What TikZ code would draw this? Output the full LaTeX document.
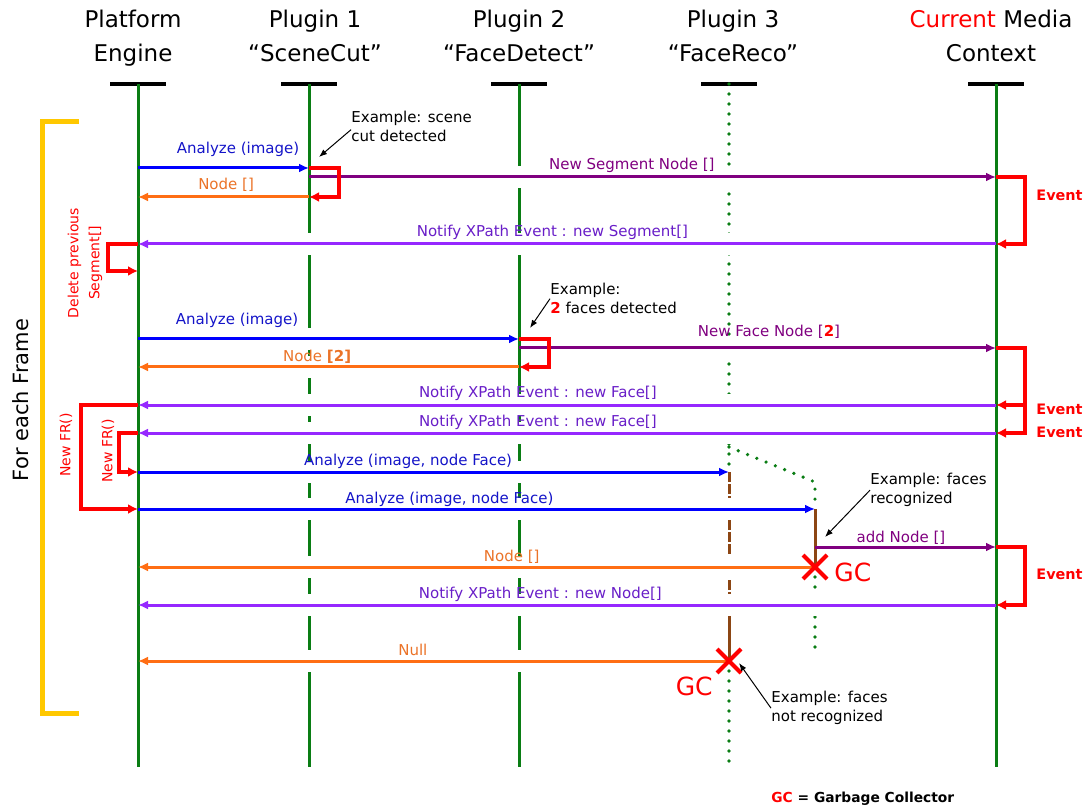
\documentclass[tikz,border=0pt]{standalone}
\usepackage{fontspec}
\setsansfont{DejaVu Sans}
\usetikzlibrary{arrows.meta, shapes.misc, positioning}

\definecolor{lifegreen}{RGB}{10,125,20}
\definecolor{callblue}{RGB}{0,0,255}
\definecolor{calltext}{RGB}{20,20,200}
\definecolor{retorange}{RGB}{255,110,20}
\definecolor{rettext}{RGB}{235,115,40}
\definecolor{putpurple}{RGB}{128,0,128}
\definecolor{notviolet}{RGB}{150,40,255}
\definecolor{nottext}{RGB}{105,30,200}
\definecolor{actbrown}{RGB}{140,70,20}
\definecolor{loopyellow}{RGB}{255,200,0}

\begin{document}
\begin{tikzpicture}[x=0.5pt, y=-0.5pt, font=\sffamily,
    head/.style={align=center, anchor=north, inner sep=0pt, font=\sffamily\fontsize{11.5}{17}\selectfont},
    bar/.style={line width=2pt},
    life/.style={draw=lifegreen, line width=1.5pt},
    dots/.style={draw=lifegreen, line width=1.8pt, line cap=round, dash pattern=on 0pt off 5pt},
    act/.style={draw=actbrown, line width=1.5pt},
    halo/.style={draw=white, line width=11pt, shorten <=3pt, shorten >=3pt},
    msg/.style={line width=1.5pt, -{Latex[length=5pt,width=4.5pt]}},
    ana/.style={msg, draw=callblue},
    ret/.style={msg, draw=retorange},
    put/.style={msg, draw=putpurple},
    ntf/.style={msg, draw=notviolet},
    evt/.style={draw=red, line width=1.8pt, -{Latex[length=5pt,width=5pt]}},
    lbl/.style={anchor=base, inner sep=0pt, yshift=3.5pt, font=\sffamily\fontsize{7.5}{9}\selectfont},
    side/.style={red, rotate=90, align=center, inner sep=0pt, font=\sffamily\fontsize{7}{10.5}\selectfont},
    note/.style={align=left, anchor=north west, inner sep=0pt, font=\sffamily\fontsize{7.5}{9.5}\selectfont},
    ptr/.style={line width=0.5pt, -{Latex[length=4pt,width=3pt]}},
    gc/.style={draw=red, cross out, line width=2pt, minimum size=10pt, inner sep=0pt},
    big/.style={red, inner sep=0pt, font=\sffamily\fontsize{12.5}{15}\selectfont},
    evtlbl/.style={red, anchor=west, inner sep=0pt, font=\sffamily\bfseries\fontsize{7.2}{9}\selectfont}]

    \useasboundingbox (0,0) rectangle (1086,807);

    % 1. Loop bracket
    \draw[loopyellow, line width=2.5pt] (79,122) -| (42,713) -- (79,713);
    \node[rotate=90, font=\sffamily\fontsize{10.5}{12}\selectfont] (frame) at (21,400) {For each Frame};

    % 2. Participants
    \node[head] (hEng) at (133,10) {Platform\\Engine};
    \node[head] (hSc) at (315,10) {Plugin 1\\“SceneCut”};
    \node[head] (hFd) at (519,10) {Plugin 2\\“FaceDetect”};
    \node[head] (hFr) at (733,10) {Plugin 3\\“FaceReco”};
    \node[head] (hCtx) at (991,10) {{\color{red}Current} Media\\Context};

    \coordinate (eng) at (138,84);
    \coordinate (sc) at (309,84);
    \coordinate (fd) at (519,84);
    \coordinate (fr) at (729,84);
    \coordinate (ctx) at (996,84);
    \coordinate (split) at (729,447);
    \coordinate (fr2) at (815,482);
    \coordinate (bot) at (0,767);
    \coordinate (frEnd) at (0,648);

    % message rows
    \coordinate (cut) at (0,168);
    \coordinate (seg) at (0,177);
    \coordinate (nodeA) at (0,197);
    \coordinate (notA) at (0,244);
    \coordinate (del) at (0,271);
    \coordinate (anaB) at (0,339);
    \coordinate (face) at (0,348);
    \coordinate (nodeB) at (0,367);
    \coordinate (notB) at (0,405);
    \coordinate (notC) at (0,433);
    \coordinate (anaC) at (0,472);
    \coordinate (anaD) at (0,509);
    \coordinate (add) at (0,547);
    \coordinate (nodeC) at (0,567);
    \coordinate (notD) at (0,605);
    \coordinate (null) at (0,661);

    \foreach \l in {eng, sc, fd, fr, ctx}
        \draw[bar] ([xshift=-14pt]\l) -- ([xshift=14pt]\l);

    % 3. Lifelines
    \draw[life] (eng) -- (eng|-bot);
    \draw[life] (sc) -- (sc|-bot);
    \draw[life] (fd) -- (fd|-bot);
    \draw[life] (ctx) -- (ctx|-bot);
    \draw[dots] (fr) -- (fr|-anaC);
    \draw[dots] (split) -- (fr2) -- (fr2|-anaD);
    \draw[act, dash pattern=on 5pt off 1pt] (fr|-anaC) -- (fr|-notD);
    \draw[act] (fr|-notD) -- (fr|-null);
    \draw[act] (fr2|-anaD) -- (fr2|-nodeC);
    \draw[dots] (fr2|-nodeC) -- (fr2|-frEnd);
    \draw[dots] (fr|-null) -- (fr|-bot);

    % gaps where the messages cross
    \foreach \a/\b/\r in {eng/sc/cut, sc/ctx/seg, sc/eng/nodeA, ctx/eng/notA,
        eng/fd/anaB, fd/ctx/face, fd/eng/nodeB, ctx/eng/notB, ctx/eng/notC,
        eng/fr/anaC, eng/fr2/anaD, fr2/ctx/add, fr2/eng/nodeC, ctx/eng/notD, fr/eng/null}
        \draw[halo] (\a|-\r) -- (\b|-\r);

    % 4. Messages
    \draw[ana] (eng|-cut) -- (sc|-cut) node[lbl, calltext, pos=.585, yshift=3.5pt] {Analyze (image)};
    \draw[put] (sc|-seg) -- (ctx|-seg) node[lbl, putpurple, pos=.47] {New Segment Node []};
    \draw[ret] (sc|-nodeA) -- (eng|-nodeA) node[lbl, rettext, pos=.485] {Node []};
    \draw[ntf] (ctx|-notA) -- (eng|-notA) node[lbl, nottext, pos=.517] {Notify XPath Event : new Segment[]};

    \draw[ana] (eng|-anaB) -- (fd|-anaB) node[lbl, calltext, pos=.26, yshift=3.5pt] {Analyze (image)};
    \draw[put] (fd|-face) -- (ctx|-face) node[lbl, putpurple, pos=.524, yshift=2pt] {New Face Node [{\color{red}\bfseries 2}]};
    \draw[ret] (fd|-nodeB) -- (eng|-nodeB) node[lbl, rettext, pos=.53, yshift=-1pt] {Node {\bfseries[2]}};
    \draw[ntf] (ctx|-notB) -- (eng|-notB) node[lbl, nottext, pos=.534] {Notify XPath Event : new Face[]};
    \draw[ntf] (ctx|-notC) -- (eng|-notC) node[lbl, nottext, pos=.534] {Notify XPath Event : new Face[]};

    \draw[ana] (eng|-anaC) -- (fr|-anaC) node[lbl, calltext, pos=.457] {Analyze (image, node Face)};
    \draw[ana] (eng|-anaD) -- (fr2|-anaD) node[lbl, calltext, pos=.46, yshift=-.5pt] {Analyze (image, node Face)};
    \draw[put] (fr2|-add) -- (ctx|-add) node[lbl, putpurple, pos=.475, yshift=-1pt] {add Node []};
    \draw[ret] (fr2|-nodeC) -- (eng|-nodeC) node[lbl, rettext, pos=.448, yshift=-.5pt] {Node []};
    \draw[ntf] (ctx|-notD) -- (eng|-notD) node[lbl, nottext, pos=.531] {Notify XPath Event : new Node[]};
    \draw[ret] (fr|-null) -- (eng|-null) node[lbl, rettext, pos=.535, yshift=-.5pt] {Null};

    % 5. Self calls and events
    \draw[evt] (sc|-cut) -- ++(30,0) |- (sc|-nodeA);
    \draw[evt] (fd|-anaB) -- ++(30,0) |- (fd|-nodeB);
    \draw[evt] (ctx|-seg) -- ++(29,0) |- (ctx|-notA);
    \draw[evt] (ctx|-face) -- ++(29,0) |- (ctx|-notC);
    \draw[evt] (ctx|-notB) ++(29,0) -- (ctx|-notB);
    \draw[evt] (ctx|-add) -- ++(29,0) |- (ctx|-notD);
    \draw[evt] (eng|-notA) -- ++(-30,0) |- (eng|-del);
    \draw[evt] (eng|-notB) -- ++(-57,0) |- (eng|-anaD);
    \draw[evt] (eng|-notC) -- ++(-19,0) |- (eng|-anaC);

    \node[evtlbl] (evA) at (1036,195) {Event};
    \node[evtlbl] (evB) at (1036,409) {Event};
    \node[evtlbl] (evC) at (1036,432) {Event};
    \node[evtlbl] (evD) at (1036,574) {Event};

    \node[side] (delLbl) at (85,263) {Delete previous\\Segment[]};
    \node[side] (frA) at (66,445) {New FR()};
    \node[side] (frB) at (108,451) {New FR()};

    % 6. Garbage collection
    \node[gc] (gcA) at (fr2|-nodeC) {};
    \node[big, right=3.5pt of gcA, yshift=-2.5pt] (gcAl) {GC};
    \node[gc] (gcB) at (fr|-null) {};
    \node[big, anchor=east] (gcBl) at (713,686) {GC};

    % 7. Notes
    \node[note] (exA) at (351,111) {Example: scene\\cut detected};
    \coordinate (cutTip) at (319,157);
    \draw[ptr] ([yshift=-1.5pt]exA.west) -- (cutTip);

    \node[note] (exB) at (550,283) {Example:\\{\color{red}\bfseries 2} faces detected};
    \coordinate (detTip) at (530,328);
    \draw[ptr] (exB.west) -- (detTip);

    \node[note] (exC) at (870,473) {Example: faces\\recognized};
    \coordinate (recTip) at (825,537);
    \draw[ptr] (exC.west) -- (recTip);

    \node[note] (exD) at (771,691) {Example: faces\\not recognized};
    \coordinate (nrecTip) at (739,663);
    \draw[ptr] (exD.west) -- (nrecTip);

    \node[anchor=base west, inner sep=0pt, font=\sffamily\bfseries\fontsize{6.9}{8}\selectfont] (legend) at (771,802) {{\color{red}GC} = Garbage Collector};

\end{tikzpicture}
\end{document}
